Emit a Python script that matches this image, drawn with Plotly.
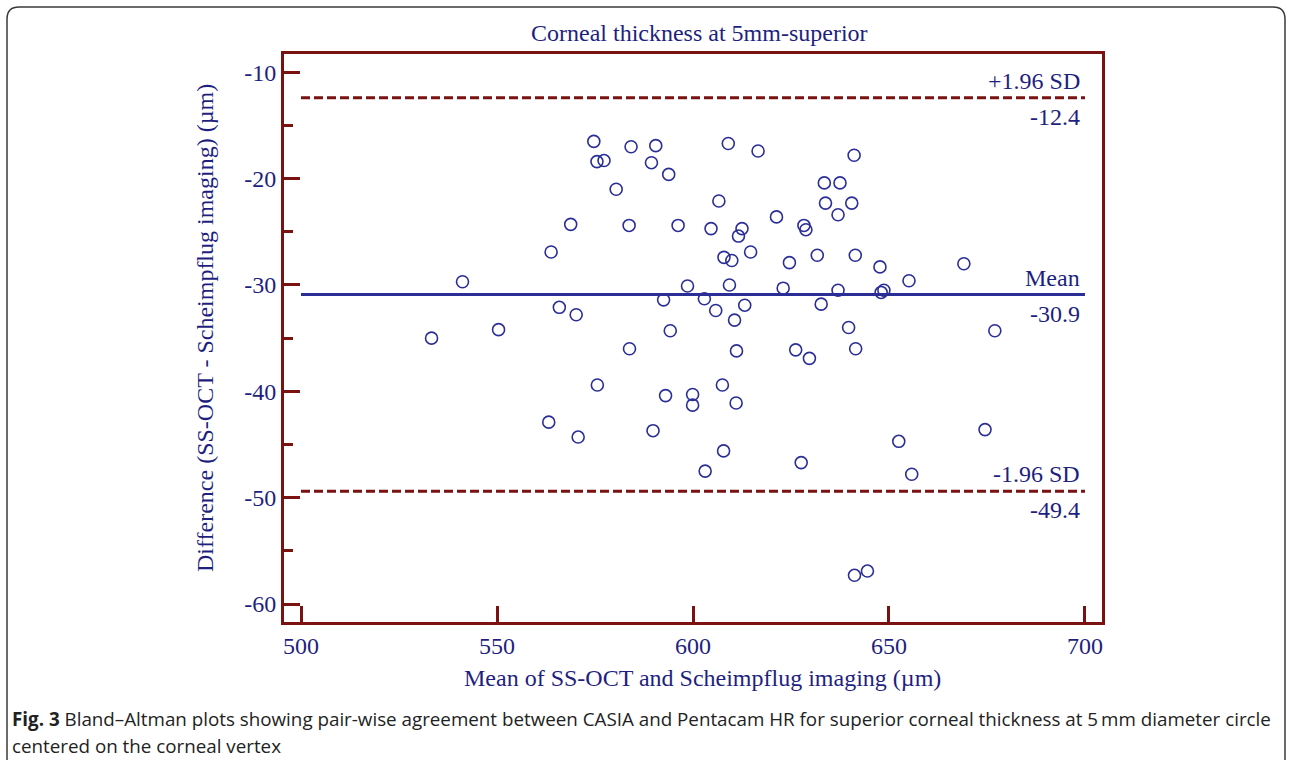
import plotly.graph_objects as go

# ---- data ----
mean_vals = [533.3, 541.2, 550.4, 563.8, 563.2, 565.9, 568.8, 570.2, 570.7, 574.7,
             575.5, 577.3, 575.6, 580.4, 583.7, 583.8, 584.2, 589.4, 589.8, 590.5,
             592.5, 593.0, 593.8, 594.2, 596.2, 598.6, 599.9, 599.9, 602.9, 603.1,
             604.6, 605.8, 606.6, 607.5, 607.8, 607.9, 609.0, 609.3, 609.9, 610.6,
             611.0, 611.1, 611.6, 612.5, 613.2, 614.7, 616.6, 621.3, 623.0, 624.6,
             626.2, 627.6, 628.3, 628.8, 629.7, 631.7, 632.7, 633.5, 633.8, 637.0,
             637.0, 637.5, 639.7, 640.5, 641.1, 641.2, 641.4, 641.5, 644.5, 647.7,
             648.0, 648.7, 652.5, 655.1, 655.8, 669.1, 674.5, 677.0]
diff_vals = [-35.0, -29.7, -34.2, -26.9, -42.9, -32.1, -24.3, -32.8, -44.3, -16.5,
             -18.4, -18.3, -39.4, -21.0, -24.4, -36.0, -17.0, -18.5, -43.7, -16.9,
             -31.4, -40.4, -19.6, -34.3, -24.4, -30.1, -40.3, -41.3, -31.3, -47.5,
             -24.7, -32.4, -22.1, -39.4, -45.6, -27.4, -16.7, -30.0, -27.7, -33.3,
             -41.1, -36.2, -25.4, -24.7, -31.9, -26.9, -17.4, -23.6, -30.3, -27.9,
             -36.1, -46.7, -24.4, -24.8, -36.9, -27.2, -31.8, -20.4, -22.3, -23.4,
             -30.5, -20.4, -34.0, -22.3, -17.8, -57.3, -27.2, -36.0, -56.9, -28.3,
             -30.7, -30.5, -44.7, -29.6, -47.8, -28.0, -43.6, -34.3]
mean_diff = -30.9
upper_loa = -12.4
lower_loa = -49.4
line_x = [500, 700]
x_ticks = [500, 550, 600, 650, 700]
x_ticklabels = ["500", "550", "600", "650", "700"]
y_ticks = [-60, -50, -40, -30, -20, -10]
y_ticklabels = ["-60", "-50", "-40", "-30", "-20", "-10"]

title_text = "Corneal thickness at 5mm-superior"
x_title = "Mean of SS-OCT and Scheimpflug imaging (µm)"
y_title = "Difference (SS-OCT - Scheimpflug imaging) (µm)"
caption_bold = "Fig. 3"
caption_1 = " Bland–Altman plots showing pair-wise agreement between CASIA and Pentacam HR for superior corneal thickness at 5\u2009mm diameter circle"
caption_2 = "centered on the corneal vertex"

# ---- styles ----
W, H = 1292, 760
L, R, T, B = 284, 190, 54, 138
PW, PH = W - L - R, H - T - B
NAVY = "#2B2E96"
TXT = "#1F1F80"
DRED = "#7A1212"
SERIF = "Liberation Serif, Times New Roman, serif"
SANS = "Open Sans, Noto Sans, sans-serif"


def px(xp):
    return (xp - L) / PW


def py(yp):
    return (H - B - yp) / PH


fig = go.Figure()

fig.add_trace(go.Scatter(x=line_x, y=[upper_loa, upper_loa], mode="lines",
                         line=dict(color=DRED, width=3, dash="9px,4px"),
                         hoverinfo="skip", showlegend=False))
fig.add_trace(go.Scatter(x=line_x, y=[lower_loa, lower_loa], mode="lines",
                         line=dict(color=DRED, width=3, dash="9px,4px"),
                         hoverinfo="skip", showlegend=False))
fig.add_trace(go.Scatter(x=line_x, y=[mean_diff, mean_diff], mode="lines",
                         line=dict(color=NAVY, width=3),
                         hoverinfo="skip", showlegend=False))
fig.add_trace(go.Scatter(x=mean_vals, y=diff_vals, mode="markers",
                         marker=dict(symbol="circle-open", size=12,
                                     color=NAVY, line=dict(width=1.6, color=NAVY)),
                         showlegend=False))

axis_common = dict(showline=True, linecolor=DRED, linewidth=3, mirror=True,
                   ticks="inside", tickcolor=DRED, tickwidth=3, ticklen=16,
                   showgrid=False, zeroline=False,
                   tickfont=dict(family=SERIF, size=24, color=TXT))

fig.update_xaxes(range=[495.66, 704.34], tickvals=x_ticks, ticktext=x_ticklabels,
                 **axis_common)
fig.update_yaxes(range=[-61.69, -8.28], tickvals=y_ticks, ticktext=y_ticklabels,
                 minor=dict(ticks="inside", dtick=5, tick0=-60, ticklen=9,
                            tickcolor=DRED, tickwidth=3, showgrid=False),
                 **axis_common)

ann = []
label_font = dict(family=SERIF, size=24, color=TXT)
for val, above, below in [(upper_loa, "+1.96 SD", f"{upper_loa}"),
                          (mean_diff, "Mean", f"{mean_diff}"),
                          (lower_loa, "-1.96 SD", f"{lower_loa}")]:
    ann.append(dict(x=700, y=val, xref="x", yref="y", text=above, showarrow=False,
                    xanchor="right", yanchor="bottom", xshift=-3, yshift=2,
                    font=label_font))
    ann.append(dict(x=700, y=val, xref="x", yref="y", text=below, showarrow=False,
                    xanchor="right", yanchor="top", xshift=-3, yshift=-4,
                    font=label_font))

ann.append(dict(x=px(699), y=py(33), xref="paper", yref="paper", text=title_text,
                showarrow=False, xanchor="center", yanchor="middle",
                font=dict(family=SERIF, size=24, color=TXT)))
ann.append(dict(x=px(702), y=py(678), xref="paper", yref="paper", text=x_title,
                showarrow=False, xanchor="center", yanchor="middle",
                font=dict(family=SERIF, size=24, color=TXT)))
ann.append(dict(x=px(205), y=py(328), xref="paper", yref="paper", text=y_title,
                showarrow=False, xanchor="center", yanchor="middle", textangle=-90,
                font=dict(family=SERIF, size=24, color=TXT)))
ann.append(dict(x=px(10), y=py(719), xref="paper", yref="paper",
                text=f"<b>{caption_bold}</b>{caption_1}",
                showarrow=False, xanchor="left", yanchor="middle",
                font=dict(family=SANS, size=18.8, color="#222222")))
ann.append(dict(x=px(10), y=py(746), xref="paper", yref="paper",
                text=caption_2,
                showarrow=False, xanchor="left", yanchor="middle",
                font=dict(family=SANS, size=18.8, color="#222222")))

# rounded outer frame
x0, y0, x1, y1, r = 7, 7, 1285, 775, 12
path = (f"M {px(x0 + r)},{py(y0)} L {px(x1 - r)},{py(y0)} "
        f"Q {px(x1)},{py(y0)} {px(x1)},{py(y0 + r)} "
        f"L {px(x1)},{py(y1 - r)} Q {px(x1)},{py(y1)} {px(x1 - r)},{py(y1)} "
        f"L {px(x0 + r)},{py(y1)} Q {px(x0)},{py(y1)} {px(x0)},{py(y1 - r)} "
        f"L {px(x0)},{py(y0 + r)} Q {px(x0)},{py(y0)} {px(x0 + r)},{py(y0)} Z")

fig.update_layout(
    width=W, height=H,
    margin=dict(l=L, r=R, t=T, b=B, pad=0),
    paper_bgcolor="white", plot_bgcolor="white",
    annotations=ann,
    shapes=[dict(type="path", path=path, xref="paper", yref="paper",
                 line=dict(color="#3a3a3a", width=1.5), layer="below")],
    showlegend=False,
)

fig.write_html("out.html", config={"displayModeBar": False},
               post_script="document.body.style.margin='0';")
